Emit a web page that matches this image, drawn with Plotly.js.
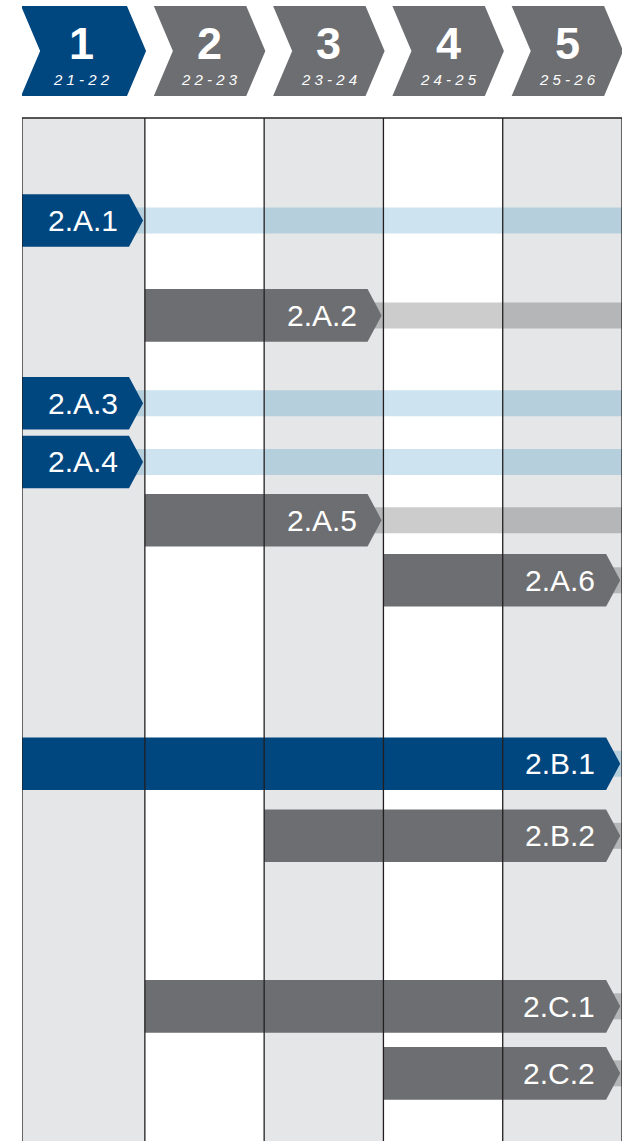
<!DOCTYPE html>
<html>
<head>
<meta charset="utf-8">
<script src="https://cdn.plot.ly/plotly-3.0.1.min.js"></script>
<style>html,body{margin:0;padding:0;background:#fff;}#chart{width:628px;height:1141px;}</style>
</head>
<body>
<div id="chart"></div>
<script>
// ---- data ----
const phaseNumbers = ['1', '2', '3', '4', '5'];
const phaseYears = ['21-22', '22-23', '23-24', '24-25', '25-26'];
const categories = ['2.A.1', '2.A.2', '2.A.3', '2.A.4', '2.A.5', '2.A.6', '2.B.1', '2.B.2', '2.C.1', '2.C.2'];
const rowPos = [1.749, 3.369, 4.867, 5.870, 6.865, 7.889, 11.019, 12.249, 15.159, 16.302];
const startPhase = [0, 1, 0, 0, 1, 3, 0, 2, 1, 3];
const endPhase = [1, 3, 1, 1, 3, 5, 5, 5, 5, 5];
const groups = ['blue', 'gray', 'blue', 'blue', 'gray', 'gray', 'blue', 'gray', 'gray', 'gray'];

// ---- styles ----
const FONT = '"Liberation Sans", Arial, Helvetica, sans-serif';
const solidColor = {blue: '#00467f', gray: '#6d6e71'};
const contColor = {
  blue: {white: '#cde3ef', shaded: '#b6cfdd'},
  gray: {white: '#cccccd', shaded: '#b5b6b8'}
};
const shadeBg = '#e5e6e8';
const nCols = phaseNumbers.length;
const xMin = -0.03;            // first column has a little extra left padding
const yMax = 17.457;
const barHalf = 0.449, contHalf = 0.222;
const tipDepth = 0.118, tipGap = 0.015;

const isShaded = c => c % 2 === 0;
const colLeft = c => (c === 0 ? xMin : c);
const shapes = [];
const traces = [];
const annotations = [];

// column shading
for (let c = 0; c < nCols; c++) {
  if (isShaded(c)) {
    shapes.push({type: 'rect', xref: 'x', yref: 'paper', x0: colLeft(c), x1: c + 1, y0: 0, y1: 1,
      fillcolor: shadeBg, line: {width: 0}, layer: 'below'});
  }
}

// continuation bars (split per column to mimic multiply blending)
categories.forEach((cat, i) => {
  const from = endPhase[i] - tipGap - tipDepth;
  for (let c = 0; c < nCols; c++) {
    const a = Math.max(from, colLeft(c)), b = Math.min(nCols, c + 1);
    if (b <= a) continue;
    shapes.push({type: 'rect', xref: 'x', yref: 'y', x0: a, x1: b,
      y0: rowPos[i] - contHalf, y1: rowPos[i] + contHalf,
      fillcolor: contColor[groups[i]][isShaded(c) ? 'shaded' : 'white'],
      line: {width: 0}, layer: 'below'});
  }
});

// solid chevron bars
categories.forEach((cat, i) => {
  const s = colLeft(startPhase[i]), e = endPhase[i] - tipGap, y = rowPos[i];
  traces.push({
    type: 'scatter', mode: 'lines', fill: 'toself',
    x: [s, e - tipDepth, e, e - tipDepth, s, s],
    y: [y - barHalf, y - barHalf, y, y + barHalf, y + barHalf, y - barHalf],
    fillcolor: solidColor[groups[i]], line: {width: 0, color: solidColor[groups[i]]},
    hoverinfo: 'skip', showlegend: false, name: cat
  });
  annotations.push({x: e - tipDepth - 0.075, y: y, xref: 'x', yref: 'y', text: cat,
    xanchor: 'right', yanchor: 'middle', showarrow: false,
    font: {family: FONT, size: 30, color: '#ffffff'}});
});

// grid lines
for (let c = 0; c <= nCols; c++) {
  const gx = colLeft(c);
  shapes.push({type: 'line', xref: 'x', yref: 'paper', x0: gx, x1: gx, y0: 0, y1: 1,
    line: {color: '#231f20', width: 1.3}, layer: 'above'});
}
shapes.push({type: 'line', xref: 'x', yref: 'paper', x0: xMin, x1: nCols, y0: 1, y1: 1,
  line: {color: '#231f20', width: 1.5}, layer: 'above'});

// header chevrons
const hTop = 1.1095, hBot = 1.0215, hMid = 1.0655, hDepth = 0.16;
phaseNumbers.forEach((num, k) => {
  const left = k === 0 ? xMin - 0.008 : k + 0.075;
  const tip = k + 1 + 0.01;
  shapes.push({type: 'path', xref: 'x', yref: 'paper',
    path: `M${left},${hTop} L${tip - hDepth},${hTop} L${tip},${hMid} L${tip - hDepth},${hBot} L${left},${hBot} L${left + hDepth},${hMid} Z`,
    fillcolor: k === 0 ? solidColor.blue : solidColor.gray, line: {width: 0}, layer: 'above'});
  const cx = (left + tip) / 2 - (k === 0 ? 0.015 : 0);
  annotations.push({x: cx, y: 1.0725, xref: 'x', yref: 'paper', text: '<b>' + num + '</b>',
    xanchor: 'center', yanchor: 'middle', showarrow: false,
    font: {family: FONT, size: 45, color: '#ffffff'}});
  annotations.push({x: cx, y: 1.0375, xref: 'x', yref: 'paper',
    text: '<i>' + phaseYears[k].split('').join(' ') + '</i>',
    xanchor: 'center', yanchor: 'middle', showarrow: false,
    font: {family: FONT, size: 15, color: '#ffffff'}});
});

const layout = {
  width: 628, height: 1141,
  margin: {l: 22, r: 6, t: 118, b: 0, pad: 0},
  paper_bgcolor: '#ffffff', plot_bgcolor: '#ffffff',
  xaxis: {range: [xMin, nCols], visible: false, fixedrange: true},
  yaxis: {range: [yMax, 0], visible: false, fixedrange: true},
  shapes: shapes, annotations: annotations, showlegend: false
};

Plotly.newPlot('chart', traces, layout, {staticPlot: true, displayModeBar: false});
</script>
</body>
</html>
